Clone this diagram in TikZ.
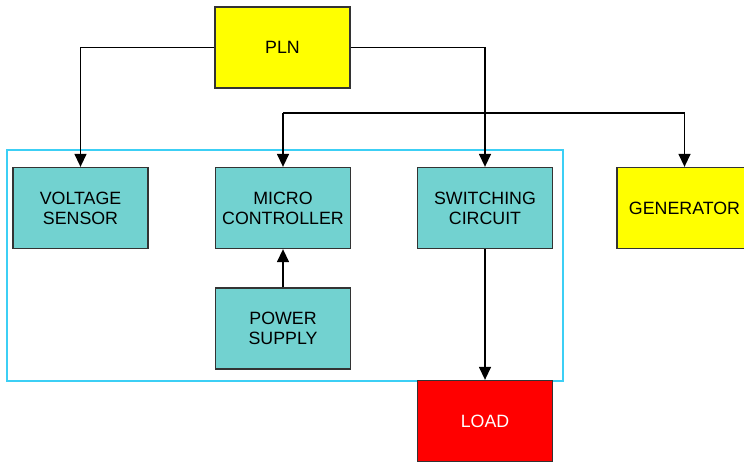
\documentclass[tikz,border=0pt]{standalone}
\usepackage{fontspec}
\setmainfont{Liberation Sans}
\usetikzlibrary{arrows.meta}
\definecolor{boxcyan}{HTML}{72D2D0}
\definecolor{boxyellow}{HTML}{FFFF00}
\definecolor{boxred}{HTML}{FF0000}
\definecolor{framecyan}{HTML}{3CCFF5}
\definecolor{edge}{HTML}{333333}
\begin{document}
\begin{tikzpicture}[x=1pt,y=-1pt,
  blk/.style={draw=edge,line width=1.3pt,minimum width=135pt,minimum height=81pt,
    inner sep=0pt,align=center,font=\fontsize{17.8}{20}\selectfont},
  cy/.style={blk,fill=boxcyan},
  ye/.style={blk,fill=boxyellow},
  re/.style={blk,fill=boxred,text=white},
  conn/.style={draw=black,line width=1.4pt},
  arr/.style={conn,-{Triangle[width=12pt,length=13pt]}}]
\useasboundingbox (0,0) rectangle (744,463);
\begin{scope}
\clip (0,0) rectangle (744,463);
\draw[framecyan,line width=1.3pt] (7,150) rectangle (563,381);
\node[ye] (pln) at (282.5,47.5) {PLN};
\node[cy] (vs) at (80.5,208) {VOLTAGE\\SENSOR};
\node[cy] (mc) at (283,208) {MICRO\\CONTROLLER};
\node[cy] (sw) at (485,208) {SWITCHING\\CIRCUIT};
\node[cy] (ps) at (283,328.5) {POWER\\SUPPLY};
\node[re] (load) at (485,421) {LOAD};
\node[ye] (gen) at (684.5,208) {GENERATOR};
\coordinate (j1) at (283,113);
\coordinate (j2) at (684.5,113);
\draw[arr] (pln.west) -| (vs.north);
\draw[arr] (pln.east) -| (sw.north);
\draw[conn] (j1) -- (j2);
\draw[arr] (j1) -- (mc.north);
\draw[arr] (j2) -- (gen.north);
\draw[arr] (ps.north) -- (mc.south);
\draw[arr] (sw.south) -- (load.north);
\end{scope}
\end{tikzpicture}
\end{document}
